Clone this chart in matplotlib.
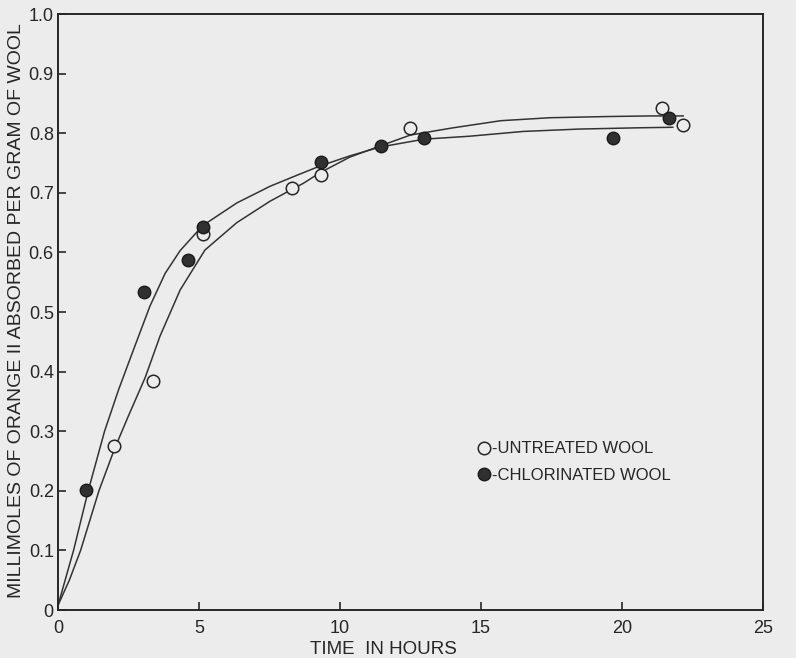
import matplotlib
matplotlib.use('Agg')
import matplotlib.pyplot as plt
from matplotlib.lines import Line2D

plt.rcParams['font.family'] = ['Liberation Sans', 'DejaVu Sans']

t_sin_tratar = [1.99, 3.37, 5.13, 8.29, 9.31, 12.48, 21.4, 22.17]
y_sin_tratar = [0.275, 0.384, 0.631, 0.708, 0.730, 0.809, 0.842, 0.814]

t_clorada = [0.99, 3.05, 4.62, 5.13, 9.31, 11.44, 12.98, 19.69, 21.68]
y_clorada = [0.201, 0.534, 0.588, 0.643, 0.751, 0.779, 0.792, 0.792, 0.825]

# Curvas trazadas a mano en el original (leidas punto a punto)
curva_clorada_t = [0, 0.55, 1.07, 1.65, 2.15, 2.67, 3.26, 3.8, 4.33, 5.13, 6.34,
                   7.52, 8.5, 9.29, 10.35, 11.44, 12.98, 14.6, 16.5, 18.5, 20.5, 21.8]
curva_clorada_y = [0.008, 0.10, 0.20, 0.30, 0.37, 0.436, 0.51, 0.565, 0.603, 0.645, 0.683,
                   0.711, 0.730, 0.745, 0.762, 0.777, 0.790, 0.795, 0.803, 0.807, 0.809, 0.810]

curva_sin_tratar_t = [0, 0.4, 0.8, 1.45, 2.0, 2.49, 3.09, 3.62, 4.33, 5.21, 6.34, 7.52,
                      8.7, 9.3, 10.35, 11.5, 12.5, 14.0, 15.7, 17.45, 19.5, 21.0, 22.17]
curva_sin_tratar_y = [0.008, 0.05, 0.10, 0.20, 0.27, 0.325, 0.39, 0.46, 0.537, 0.604, 0.65, 0.686,
                      0.716, 0.734, 0.760, 0.780, 0.797, 0.809, 0.821, 0.826, 0.828, 0.829, 0.829]

fondo = '#ececec'
tinta = '#262626'

fig = plt.figure(figsize=(7.96, 6.58), dpi=100, facecolor=fondo)
ax = fig.add_axes([0.0729, 0.0729, 0.8857, 0.9058], facecolor=fondo)

ax.plot(curva_clorada_t, curva_clorada_y, color='#333333', lw=1.1)
ax.plot(curva_sin_tratar_t, curva_sin_tratar_y, color='#333333', lw=1.1)

ax.plot(t_sin_tratar, y_sin_tratar, 'o', ms=9, mfc=fondo, mec=tinta, mew=1.1)
ax.plot(t_clorada, y_clorada, 'o', ms=9, mfc='#303030', mec='#1a1a1a', mew=1.0)

ax.set_xlim(0, 25)
ax.set_ylim(0, 1.0)
ax.set_xticks([0, 5, 10, 15, 20, 25])
ax.set_yticks([0, 0.1, 0.2, 0.3, 0.4, 0.5, 0.6, 0.7, 0.8, 0.9, 1.0])
ax.set_yticklabels(['0', '0.1', '0.2', '0.3', '0.4', '0.5', '0.6', '0.7', '0.8', '0.9', '1.0'])
ax.tick_params(direction='in', length=6, width=1.2, labelsize=13, colors=tinta, pad=3)
ax.tick_params(axis='x', pad=7)
for s in ax.spines.values():
    s.set_linewidth(1.4)
    s.set_color(tinta)

ax.set_ylabel('MILLIMOLES OF ORANGE II ABSORBED PER GRAM OF WOOL', fontsize=14, color=tinta)
ax.yaxis.set_label_coords(-0.047, 0.503)
ax.set_xlabel('TIME  IN HOURS', fontsize=13.5, color=tinta)
ax.xaxis.set_label_coords(0.461, -0.052)

manijas = [Line2D([], [], ls='none', marker='o', ms=9, mfc=fondo, mec=tinta, mew=1.1),
           Line2D([], [], ls='none', marker='o', ms=9, mfc='#303030', mec='#1a1a1a')]
ax.legend(manijas, ['-UNTREATED WOOL', '-CHLORINATED WOOL'], loc='upper left',
          bbox_to_anchor=(0.583, 0.297), frameon=False, fontsize=12, borderpad=0,
          handlelength=0.8, handletextpad=0.1, labelspacing=0.7, labelcolor=tinta)

plt.savefig('out.png', dpi=100, facecolor=fondo)
